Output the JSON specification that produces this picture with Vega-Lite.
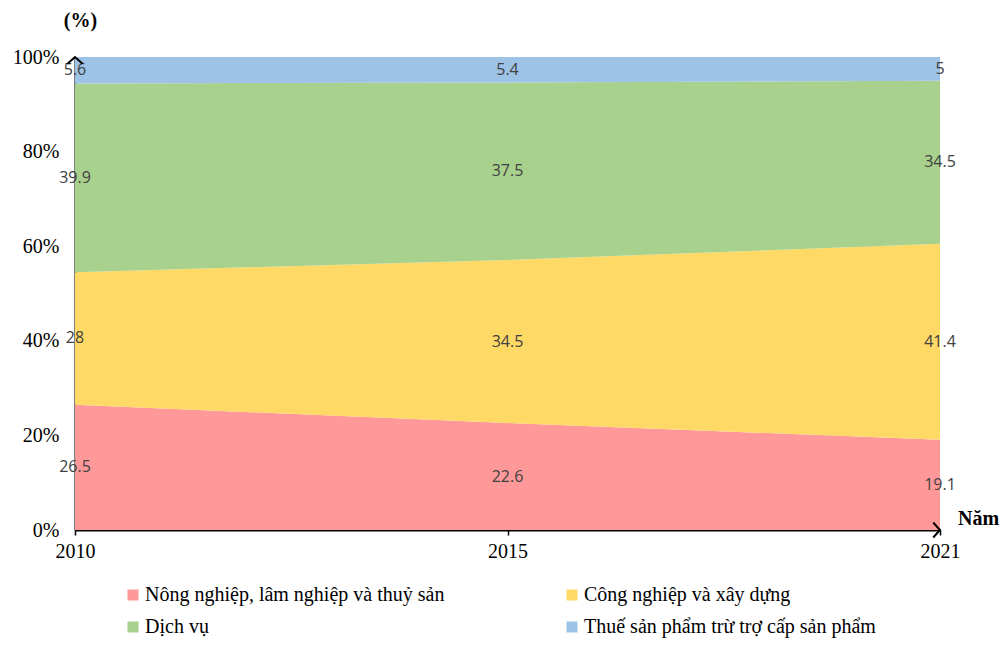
{
  "$schema": "https://vega.github.io/schema/vega-lite/v6.json",
  "width": 865,
  "height": 473,
  "autosize": {"type": "none"},
  "padding": {"left": 75, "top": 57, "right": 66, "bottom": 117},
  "background": "white",
  "config": {
    "view": {"stroke": null},
    "font": "Liberation Serif",
    "legend": {"labelFont": "Liberation Serif"}
  },
  "datasets": {
    "shares": [
      {"year": "2010", "sector": "Nông nghiệp, lâm nghiệp và thuỷ sản", "ord": 1, "value": 26.5},
      {"year": "2015", "sector": "Nông nghiệp, lâm nghiệp và thuỷ sản", "ord": 1, "value": 22.6},
      {"year": "2021", "sector": "Nông nghiệp, lâm nghiệp và thuỷ sản", "ord": 1, "value": 19.1},
      {"year": "2010", "sector": "Công nghiệp và xây dựng", "ord": 2, "value": 28},
      {"year": "2015", "sector": "Công nghiệp và xây dựng", "ord": 2, "value": 34.5},
      {"year": "2021", "sector": "Công nghiệp và xây dựng", "ord": 2, "value": 41.4},
      {"year": "2010", "sector": "Dịch vụ", "ord": 3, "value": 39.9},
      {"year": "2015", "sector": "Dịch vụ", "ord": 3, "value": 37.5},
      {"year": "2021", "sector": "Dịch vụ", "ord": 3, "value": 34.5},
      {"year": "2010", "sector": "Thuế sản phẩm trừ trợ cấp sản phẩm", "ord": 4, "value": 5.6},
      {"year": "2015", "sector": "Thuế sản phẩm trừ trợ cấp sản phẩm", "ord": 4, "value": 5.4},
      {"year": "2021", "sector": "Thuế sản phẩm trừ trợ cấp sản phẩm", "ord": 4, "value": 5}
    ],
    "arrowUp": [{"year": "2010", "v": 100}],
    "arrowRight": [{"year": "2021", "v": 0}]
  },
  "layer": [
    {
      "data": {"name": "shares"},
      "mark": {"type": "area", "opacity": 1},
      "encoding": {
        "x": {
          "field": "year", "type": "ordinal",
          "scale": {"type": "point", "padding": 0},
          "axis": {
            "title": "Năm", "titleFont": "Liberation Serif", "titleFontWeight": "bold", "titleFontSize": 20,
            "titleX": 903, "titleY": -12, "titleAngle": 0, "titleAlign": "center", "titleBaseline": "middle",
            "titleColor": "black",
            "labelAngle": 0, "labelFont": "Liberation Serif", "labelFontSize": 20, "labelColor": "black",
            "labelPadding": 6, "domainColor": "black", "domainWidth": 2,
            "tickColor": "black", "tickSize": 5, "tickWidth": 1.5, "grid": false
          }
        },
        "y": {
          "field": "value", "type": "quantitative", "stack": "zero",
          "scale": {"domain": [0, 100]},
          "axis": {
            "title": "(%)", "titleFont": "Liberation Serif", "titleFontWeight": "bold", "titleFontSize": 20,
            "titleX": 5, "titleY": -37, "titleAngle": 0, "titleAlign": "center", "titleBaseline": "middle",
            "titleColor": "black",
            "values": [0, 20, 40, 60, 80, 100], "labelExpr": "datum.value + '%'",
            "ticks": false, "labelPadding": 16, "labelFont": "Liberation Serif", "labelFontSize": 20,
            "labelColor": "black", "domainColor": "black", "domainWidth": 2,
            "grid": true, "gridColor": "#D9D9D9", "gridWidth": 1
          }
        },
        "color": {
          "field": "sector", "type": "nominal",
          "scale": {
            "domain": ["Nông nghiệp, lâm nghiệp và thuỷ sản", "Công nghiệp và xây dựng", "Dịch vụ", "Thuế sản phẩm trừ trợ cấp sản phẩm"],
            "range": ["#FF9999", "#FFD966", "#A9D18E", "#9DC3E6"]
          },
          "legend": {
            "orient": "none", "legendX": 48, "legendY": 528, "columns": 2, "direction": "horizontal", "title": null,
            "symbolType": "square", "symbolSize": 121, "symbolOpacity": 1, "symbolStrokeWidth": 0,
            "labelFont": "Liberation Serif", "labelFontSize": 20, "labelColor": "black", "labelLimit": 500,
            "labelOffset": 2, "columnPadding": 117, "rowPadding": 12, "padding": 0
          }
        },
        "order": {"field": "ord", "type": "quantitative"}
      }
    },
    {
      "data": {"name": "shares"},
      "transform": [
        {"stack": "value", "groupby": ["year"], "sort": [{"field": "ord", "order": "ascending"}], "as": ["v0", "v1"]},
        {"calculate": "(datum.v0 + datum.v1) / 2", "as": "mid"}
      ],
      "mark": {"type": "text", "font": "Open Sans", "fontSize": 16, "color": "#404040", "baseline": "middle"},
      "encoding": {
        "x": {"field": "year", "type": "ordinal"},
        "y": {"field": "mid", "type": "quantitative"},
        "text": {"field": "value", "type": "quantitative"}
      }
    },
    {
      "data": {"name": "arrowUp"},
      "mark": {"type": "point", "shape": "M -1 0.9 L 0 0 L 1 0.9", "size": 225, "filled": false, "color": "black", "strokeWidth": 2, "opacity": 1},
      "encoding": {
        "x": {"field": "year", "type": "ordinal"},
        "y": {"field": "v", "type": "quantitative"}
      }
    },
    {
      "data": {"name": "arrowRight"},
      "mark": {"type": "point", "shape": "M -0.9 -1 L 0 0 L -0.9 1", "size": 225, "filled": false, "color": "black", "strokeWidth": 2, "opacity": 1},
      "encoding": {
        "x": {"field": "year", "type": "ordinal"},
        "y": {"field": "v", "type": "quantitative"}
      }
    }
  ]
}
